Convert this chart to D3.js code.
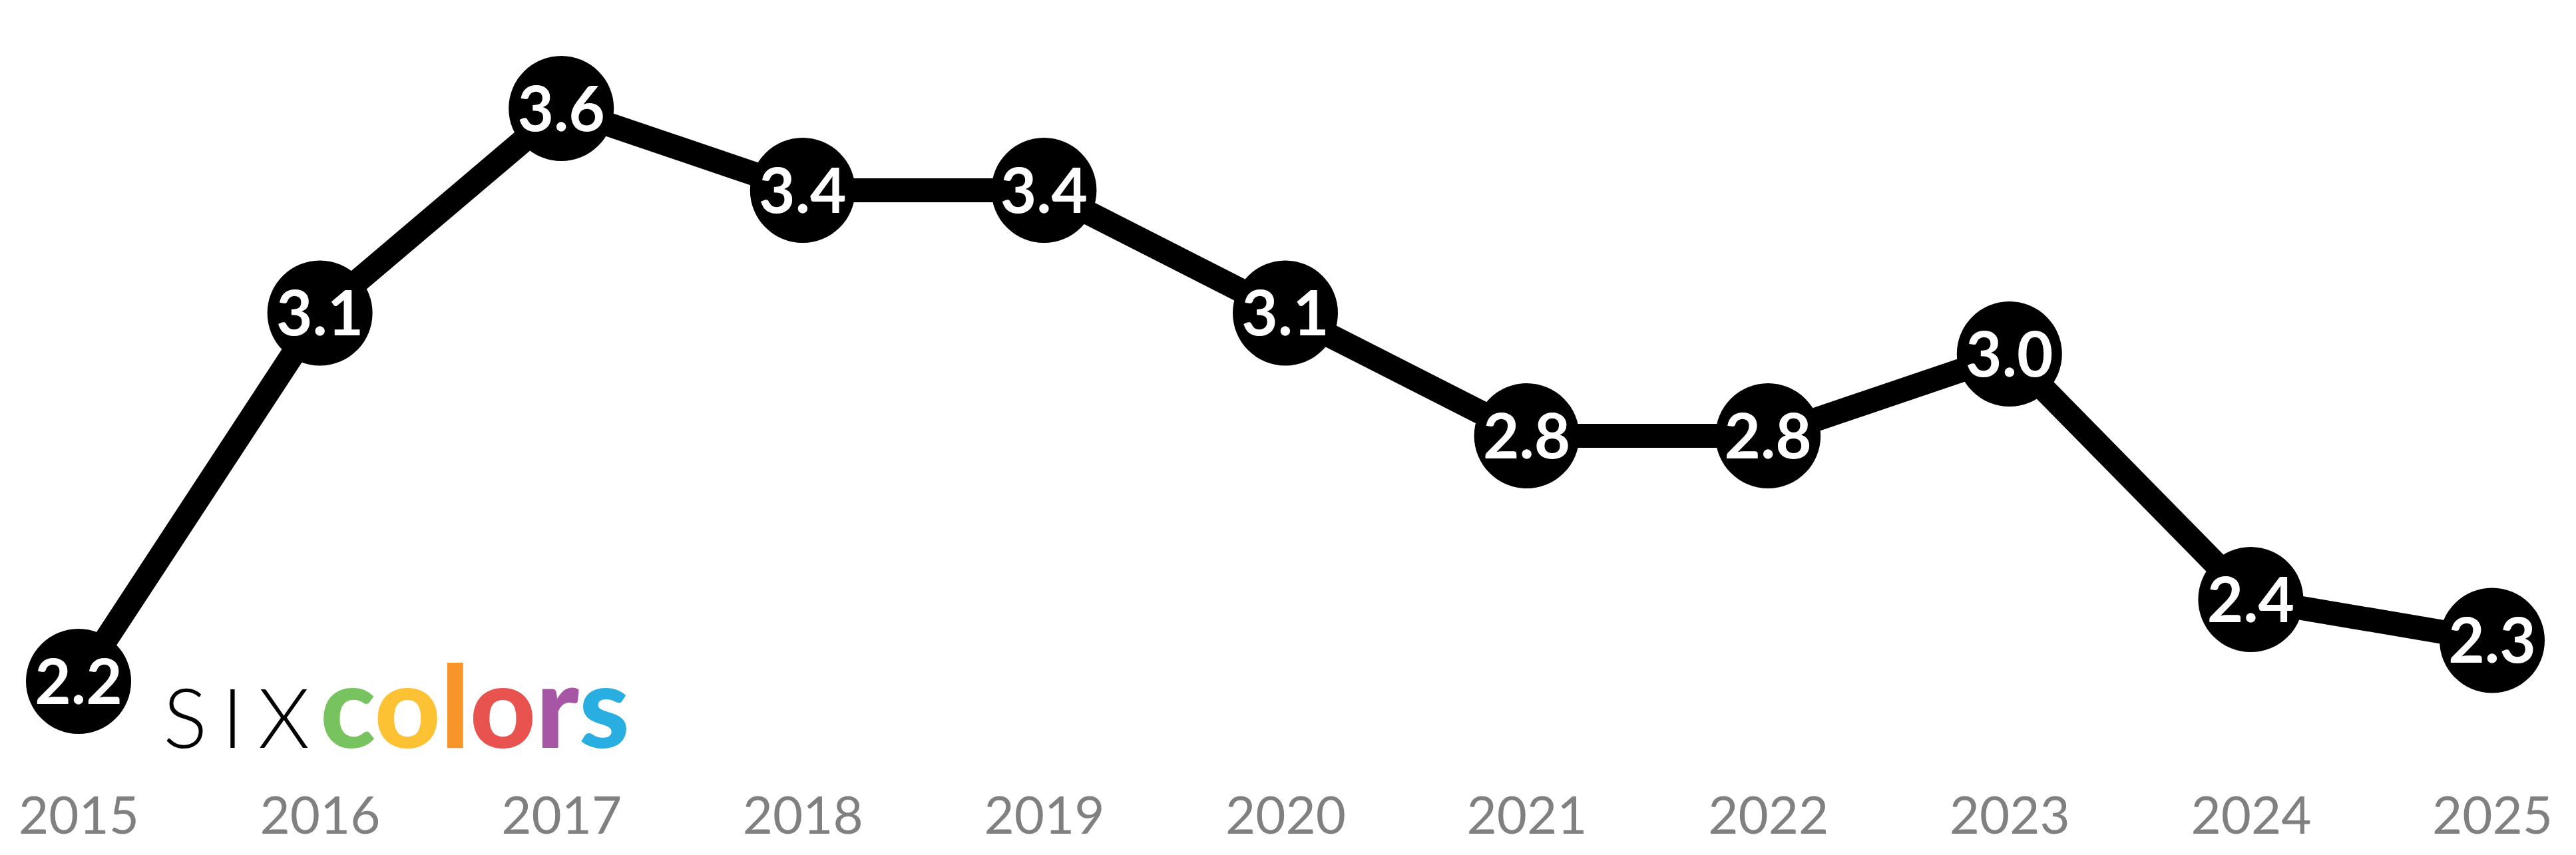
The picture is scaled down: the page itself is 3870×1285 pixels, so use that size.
<!DOCTYPE html>
<html>
<head>
<meta charset="utf-8">
<script src="https://cdn.jsdelivr.net/npm/d3@7"></script>
<style>
  body { margin: 0; background: #fff; }
  svg { display: block; }
</style>
</head>
<body>
<svg id="chart" width="3870" height="1285"></svg>
<script>
const years = ["2015", "2016", "2017", "2018", "2019", "2020", "2021", "2022", "2023", "2024", "2025"];
const values = [2.2, 3.1, 3.6, 3.4, 3.4, 3.1, 2.8, 2.8, 3.0, 2.4, 2.3];
const logoLetters = ["c", "o", "l", "o", "r", "s"];
const logoColors = ["#77c35f", "#fdc234", "#f7942a", "#e8534f", "#a755a5", "#29aee2"];

const svg = d3.select("#chart");
const width = 3870, height = 1285;

const x = d3.scalePoint().domain(years).range([118, 3744]);
const y = d3.scaleLinear().domain([2.2, 3.6]).range([1024, 163]);

const data = years.map((yr, i) => ({ year: yr, value: values[i] }));

// year axis labels
const axis = d3.axisBottom(x).tickSize(0).tickPadding(0);
const ax = svg.append("g").attr("transform", "translate(0,1198)").call(axis);
ax.select(".domain").remove();
ax.selectAll("text")
  .attr("fill", "#808080")
  .attr("font-family", "Lato, 'Open Sans', sans-serif")
  .attr("font-size", 78)
  .attr("dy", "0.71em");

// logo
const logo = svg.append("text")
  .attr("x", 245).attr("y", 1124)
  .attr("font-family", "Lato, sans-serif");
logo.append("tspan")
  .attr("font-weight", 300).attr("font-size", 124)
  .attr("letter-spacing", 22).attr("fill", "#000")
  .text("SIX");
logo.selectAll("tspan.c").data(logoLetters).join("tspan")
  .attr("class", "c")
  .attr("font-weight", 900).attr("font-size", 172)
  .attr("fill", (d, i) => logoColors[i])
  .attr("dx", (d, i) => i === 0 ? -6 : 0)
  .text(d => d);

// line
const line = d3.line().x(d => x(d.year)).y(d => y(d.value));
svg.append("path").datum(data)
  .attr("d", line)
  .attr("fill", "none")
  .attr("stroke", "#000")
  .attr("stroke-width", 36)
  .attr("stroke-linejoin", "round");

// markers
const pts = svg.append("g").selectAll("g").data(data).join("g")
  .attr("transform", d => `translate(${x(d.year)},${y(d.value)})`);
pts.append("circle").attr("r", 79).attr("fill", "#000");
pts.append("text")
  .attr("text-anchor", "middle")
  .attr("dy", "0.36em")
  .attr("fill", "#fff")
  .attr("font-family", "Lato, 'Open Sans', sans-serif")
  .attr("font-weight", 700)
  .attr("font-size", 94)
  .text(d => d.value.toFixed(1));
</script>
</body>
</html>
